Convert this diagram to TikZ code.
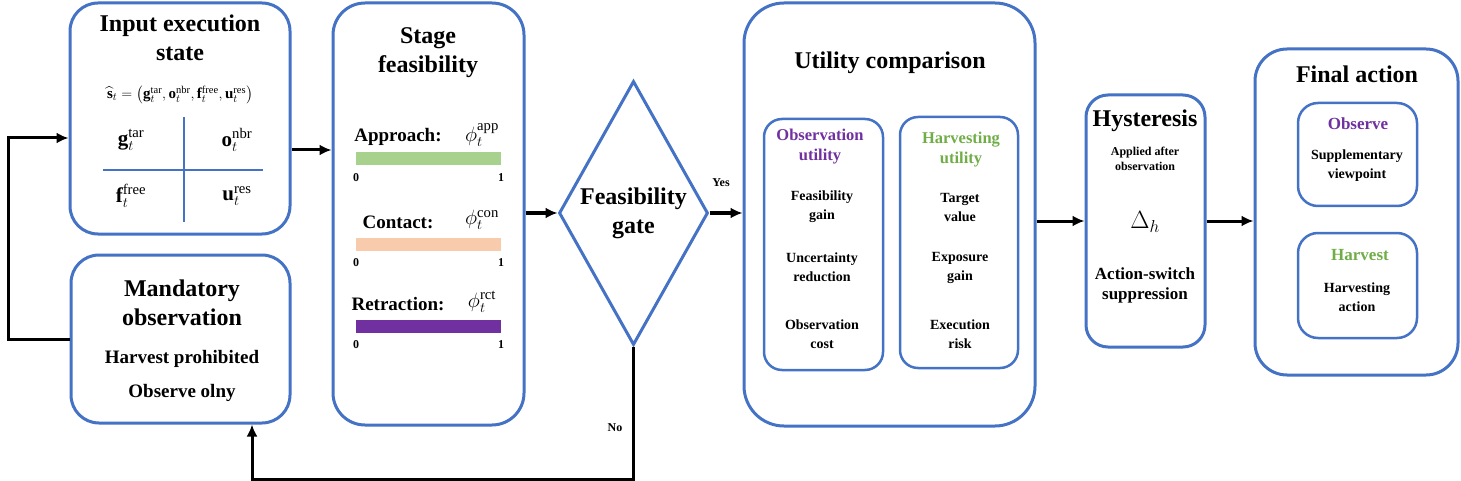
\documentclass[tikz,border=0pt]{standalone}
\usepackage{amsmath}
\usepackage{amssymb}
\usepackage{xcolor}
\usepackage{fontspec}
\setmainfont{LiberationSerif}[Extension=.ttf,UprightFont=*-Regular,BoldFont=*-Bold,ItalicFont=*-Italic,BoldItalicFont=*-BoldItalic]
\usepackage{tikz}
\usetikzlibrary{shapes.geometric,arrows.meta}
\definecolor{frame}{HTML}{4472C4}
\definecolor{obspurple}{HTML}{7030A0}
\definecolor{harvgreen}{HTML}{70AD47}
\definecolor{barapp}{HTML}{A9D18E}
\definecolor{barcon}{HTML}{F8CBAD}

\begin{document}
\begin{tikzpicture}[x=1pt,y=-1pt,inner sep=0pt]
    \tikzstyle{box}=[rectangle,draw=frame,line width=3pt,rounded corners=28pt]
    \tikzstyle{subbox}=[rectangle,draw=frame,line width=2.5pt,rounded corners=18pt]
    \tikzstyle{flow}=[line width=3pt,-{Latex[length=12pt,width=11pt]}]
    \tikzstyle{big}=[font=\fontsize{24}{29}\selectfont\bfseries,align=center]
    \tikzstyle{mid}=[font=\fontsize{19}{34}\selectfont\bfseries,align=center]
    \tikzstyle{head}=[font=\fontsize{16.5}{20}\selectfont\bfseries,align=center]
    \tikzstyle{small}=[font=\fontsize{14}{19}\selectfont\bfseries,align=center]
    \tikzstyle{tiny}=[font=\fontsize{12}{15}\selectfont\bfseries,align=center]
    \useasboundingbox (0,0) rectangle (1461,481);

    \node[box,minimum width=220pt,minimum height=231pt] (input) at (180,118.5) {};
    \node[big] (inputtitle) at (180,38) {Input execution\\state};
    \node[font=\fontsize{15}{18}\selectfont] (state) at (180,95)
        {$\widehat{\mathbf{s}}_t=\bigl(\mathbf{g}_t^{\mathrm{tar}},\mathbf{o}_t^{\mathrm{nbr}},\mathbf{f}_t^{\mathrm{free}},\mathbf{u}_t^{\mathrm{res}}\bigr)$};
    \draw[frame,line width=2pt] (184,117) -- (184,222);
    \draw[frame,line width=2pt] (103,170) -- (263,170);
    \node[font=\fontsize{21}{24}\selectfont] (gtar) at (131,140) {$\mathbf{g}_t^{\mathrm{tar}}$};
    \node[font=\fontsize{21}{24}\selectfont] (onbr) at (237,140) {$\mathbf{o}_t^{\mathrm{nbr}}$};
    \node[font=\fontsize{21}{24}\selectfont] (ffree) at (131,196) {$\mathbf{f}_t^{\mathrm{free}}$};
    \node[font=\fontsize{21}{24}\selectfont] (ures) at (237,196) {$\mathbf{u}_t^{\mathrm{res}}$};

    \node[box,minimum width=219pt,minimum height=168pt] (mand) at (180.5,339) {};
    \node[big] (mandtitle) at (182,302.5) {Mandatory\\observation};
    \node[mid] (prohib) at (182,359) {Harvest prohibited};
    \node[mid] (obsonly) at (182,393) {Observe olny};

    \node[box,minimum width=191pt,minimum height=422pt,rounded corners=32pt] (stage) at (428.5,214) {};
    \node[big] (stagetitle) at (428,52.5) {Stage\\feasibility};
    \foreach \stagename/\stagesup/\barcol/\ypos in {Approach/app/barapp/137,Contact/con/barcon/222,Retraction/rct/obspurple/304} {
        \node[mid] (lbl-\stagesup) at (398,\ypos) {\stagename:};
        \node[font=\fontsize{21}{24}\selectfont] (phi-\stagesup) at (482,\ypos-2) {$\phi_t^{\mathrm{\stagesup}}$};
        \node[rectangle,fill=\barcol,minimum width=145pt,minimum height=13pt] (bar-\stagesup) at (428.5,\ypos+22) {};
        \node[tiny] (zero-\stagesup) at (356,\ypos+41) {0};
        \node[tiny] (one-\stagesup) at (501,\ypos+41) {1};
    };

    \node[diamond,draw=frame,line width=3pt,aspect=0.56,minimum width=149pt,minimum height=264pt,big] (gate) at (633.5,213) {Feasibility\\gate};
    \node[tiny] (yes) at (721,183) {Yes};
    \node[tiny] (no) at (615,428) {No};

    \node[box,minimum width=291pt,minimum height=423pt,rounded corners=40pt] (util) at (889.5,214.5) {};
    \node[big] (utiltitle) at (890,63) {Utility comparison};
    \node[subbox,minimum width=119pt,minimum height=251pt] (obsbox) at (823.5,244.5) {};
    \node[subbox,minimum width=118pt,minimum height=251pt] (harvbox) at (959,242.5) {};
    \node[head,text=obspurple] (obstitle) at (820,147) {Observation\\utility};
    \node[head,text=harvgreen] (harvtitle) at (961,150) {Harvesting\\utility};
    \foreach \itemtext/\ypos [count=\k] in {Feasibility\\gain/206.5,Uncertainty\\reduction/267,Observation\\cost/334}
        \node[small] (obsitem\k) at (822,\ypos) {\itemtext};
    \foreach \itemtext/\ypos [count=\k] in {Target\\value/208,Exposure\\gain/268,Execution\\risk/334.5}
        \node[small] (harvitem\k) at (960,\ypos) {\itemtext};

    \node[box,minimum width=119pt,minimum height=252pt,rounded corners=22pt] (hyst) at (1145.5,221) {};
    \node[big] (hysttitle) at (1145,121) {Hysteresis};
    \node[tiny] (applied) at (1145,158.5) {Applied after\\observation};
    \node[font=\fontsize{27}{30}\selectfont] (delta) at (1145,222) {$\Delta_h$};
    \node[font=\fontsize{17}{20}\selectfont\bfseries,align=center] (suppress) at (1145,285) {Action-switch\\suppression};

    \node[box,minimum width=203pt,minimum height=326pt,rounded corners=32pt] (final) at (1356.5,212) {};
    \node[big] (finaltitle) at (1357,74) {Final action};
    \node[subbox,minimum width=119pt,minimum height=103pt,rounded corners=20pt] (observe) at (1357.5,154.5) {};
    \node[font=\fontsize{17}{20}\selectfont\bfseries,text=obspurple] (observetitle) at (1358,124) {Observe};
    \node[small] (viewpoint) at (1357,166) {Supplementary\\viewpoint};
    \node[subbox,minimum width=119pt,minimum height=105pt,rounded corners=20pt] (harvest) at (1357.5,285.5) {};
    \node[font=\fontsize{17}{20}\selectfont\bfseries,text=harvgreen] (harvesttitle) at (1360,255) {Harvest};
    \node[small] (harvaction) at (1357,297.5) {Harvesting\\action};

    \coordinate (row1) at (0,150);
    \coordinate (fb) at (8,138);
    \coordinate (nocorner) at (252,479);
    \draw[flow] (input.east |- row1) -- (stage.west |- row1);
    \draw[flow] (mand.west) -| (fb) -- (fb -| input.west);
    \draw[flow] (stage.east |- gate.west) -- (gate.west);
    \draw[flow] (gate.east) -- (gate.east -| util.west);
    \draw[flow] (gate.south) |- (nocorner) -- (nocorner |- mand.south);
    \draw[flow] (util.east |- hyst.west) -- (hyst.west);
    \draw[flow] (hyst.east) -- (hyst.east -| final.west);
\end{tikzpicture}
\end{document}
